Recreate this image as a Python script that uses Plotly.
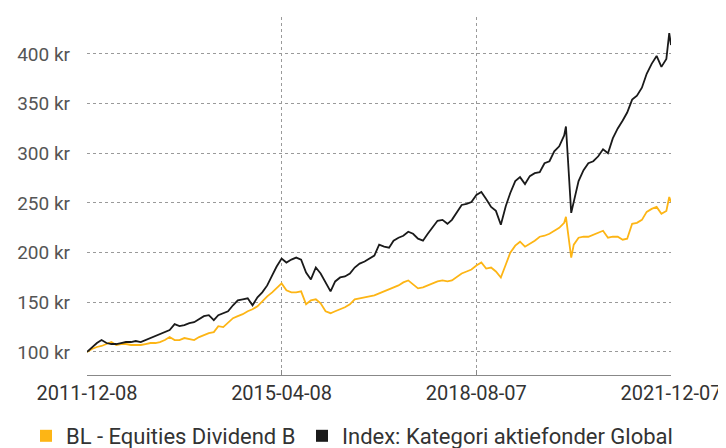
import plotly.graph_objects as go

dates = [
    "2011-12-08",
    "2012-01-08", "2012-02-08", "2012-03-08", "2012-04-08", "2012-05-08", "2012-06-08",
    "2012-07-08", "2012-08-08", "2012-09-08", "2012-10-08", "2012-11-08", "2012-12-08",
    "2013-01-08", "2013-02-08", "2013-03-08", "2013-04-08", "2013-05-08", "2013-06-08",
    "2013-07-08", "2013-08-08", "2013-09-08", "2013-10-08", "2013-11-08", "2013-12-08",
    "2014-01-08", "2014-02-08", "2014-03-08", "2014-04-08", "2014-05-08", "2014-06-08",
    "2014-07-08", "2014-08-08", "2014-09-08", "2014-10-08", "2014-11-08", "2014-12-08",
    "2015-01-08", "2015-02-08", "2015-03-08", "2015-04-08", "2015-05-08", "2015-06-08",
    "2015-07-08", "2015-08-08", "2015-09-08", "2015-10-08", "2015-11-08", "2015-12-08",
    "2016-01-08", "2016-02-08", "2016-03-08", "2016-04-08", "2016-05-08", "2016-06-08",
    "2016-07-08", "2016-08-08", "2016-09-08", "2016-10-08", "2016-11-08", "2016-12-08",
    "2017-01-08", "2017-02-08", "2017-03-08", "2017-04-08", "2017-05-08", "2017-06-08",
    "2017-07-08", "2017-08-08", "2017-09-08", "2017-10-08", "2017-11-08", "2017-12-08",
    "2018-01-08", "2018-02-08", "2018-03-08", "2018-04-08", "2018-05-08", "2018-06-08",
    "2018-07-08", "2018-08-08", "2018-09-08", "2018-10-08", "2018-11-08", "2018-12-08",
    "2019-01-08", "2019-02-08", "2019-03-08", "2019-04-08", "2019-05-08", "2019-06-08",
    "2019-07-08", "2019-08-08", "2019-09-08", "2019-10-08", "2019-11-08", "2019-12-08",
    "2020-01-08", "2020-02-08", "2020-02-19", "2020-03-23", "2020-04-08", "2020-05-08",
    "2020-06-08", "2020-07-08", "2020-08-08", "2020-09-08", "2020-10-08", "2020-11-08",
    "2020-12-08", "2021-01-08", "2021-02-08", "2021-03-08", "2021-04-08", "2021-05-08",
    "2021-06-08", "2021-07-08", "2021-08-08", "2021-09-08", "2021-10-08", "2021-11-08",
    "2021-11-26", "2021-12-07",
]

fund_values = [
    100,
    103, 105, 106, 108, 110, 107, 108, 108, 107, 107, 107, 108,
    109, 109, 110, 112, 115, 112, 112, 114, 113, 112, 115, 117,
    119, 120, 126, 125, 129, 134, 136, 138, 141, 143, 146, 151,
    156, 160, 164, 169, 162, 160, 160, 161, 148, 152, 153, 149,
    141, 139, 141, 143, 145, 148, 153, 154, 155, 156, 157, 159,
    161, 163, 165, 167, 170, 172, 168, 164, 165, 167, 169, 171,
    172, 171, 172, 176, 179, 181, 183, 187, 190, 184, 185, 181,
    175, 188, 200, 207, 211, 206, 209, 212, 216, 217, 219, 222,
    225, 230, 236, 195, 208, 215, 216, 216, 218, 220, 222, 215,
    216, 216, 213, 214, 229, 230, 233, 241, 244, 246, 239, 242,
    256, 251,
]

index_values = [
    100,
    105, 109, 112, 109, 108, 108, 109, 110, 110, 111, 110, 112,
    114, 116, 118, 120, 122, 128, 126, 127, 129, 130, 133, 136,
    137, 132, 137, 139, 141, 147, 152, 153, 154, 147, 155, 160,
    167, 177, 186, 194, 190, 193, 195, 193, 180, 173, 185, 179,
    170, 161, 171, 175, 176, 179, 185, 189, 191, 194, 197, 208,
    206, 205, 212, 215, 217, 221, 219, 214, 212, 219, 226, 232,
    233, 229, 233, 240, 248, 249, 251, 258, 261, 254, 246, 242,
    228, 247, 260, 272, 276, 269, 277, 280, 281, 290, 292, 302,
    307, 318, 327, 240, 252, 272, 283, 290, 292, 297, 304, 300,
    315, 325, 333, 341, 354, 358, 366, 380, 390, 398, 387, 395,
    421, 409,
]

series_names = ["BL - Equities Dividend B", "Index: Kategori aktiefonder Global"]
series_colors = ["#FDB515", "#1A1A1A"]

x_ticks = ["2011-12-08", "2015-04-08", "2018-08-07", "2021-12-07"]
y_ticks = [100, 150, 200, 250, 300, 350, 400]

FONT = "Roboto, 'Liberation Sans', sans-serif"
W, H = 718, 440  # page body has an 8px margin in the viewer

fig = go.Figure()
for name, vals, col in zip(series_names, [fund_values, index_values], series_colors):
    fig.add_trace(go.Scatter(
        x=dates, y=vals, mode="lines", name=name,
        line=dict(color=col, width=1.8), showlegend=False,
        hoverinfo="skip",
    ))
for i, (name, col) in enumerate(zip(series_names, series_colors)):
    fig.add_trace(go.Scatter(
        x=[None], y=[None], mode="markers", name=name,
        marker=dict(symbol="square", size=12, color=col),
        showlegend=True, legend="legend" if i == 0 else "legend2",
    ))

legend_common = dict(
    orientation="h", xref="container", yref="container",
    xanchor="left", y=1 - 428 / H, yanchor="middle",
    font=dict(size=22, color="#333", family=FONT),
    itemsizing="constant", itemwidth=30,
    bgcolor="rgba(0,0,0,0)",
)

fig.update_layout(
    width=W, height=H,
    margin=dict(l=79, r=55, t=9, b=73, autoexpand=False),
    paper_bgcolor="white", plot_bgcolor="white",
    font=dict(family=FONT, color="#333"),
    showlegend=True,
    legend=dict(legend_common, x=18 / W),
    legend2=dict(legend_common, x=294 / W),
    xaxis=dict(
        type="date",
        range=["2011-12-08", "2021-12-07"],
        tickmode="array", tickvals=x_ticks, ticktext=x_ticks,
        showgrid=True, gridcolor="#9a9a9a", griddash="3px,3px", gridwidth=1,
        showline=True, linecolor="#888", linewidth=1,
        ticks="inside", ticklen=5, tickcolor="#888",
        tickfont=dict(size=20, color="#333", family=FONT),
        zeroline=False, automargin=False,
    ),
    yaxis=dict(
        range=[76.8, 437.2],
        tickmode="array", tickvals=y_ticks,
        ticktext=[f"{v} kr" for v in y_ticks],
        showgrid=True, gridcolor="#9a9a9a", griddash="3px,3px", gridwidth=1,
        showline=False, ticks="", ticklabelstandoff=16,
        tickfont=dict(size=19, color="#555", family=FONT),
        zeroline=False, automargin=False,
    ),
)

fig.write_html("out.html")
